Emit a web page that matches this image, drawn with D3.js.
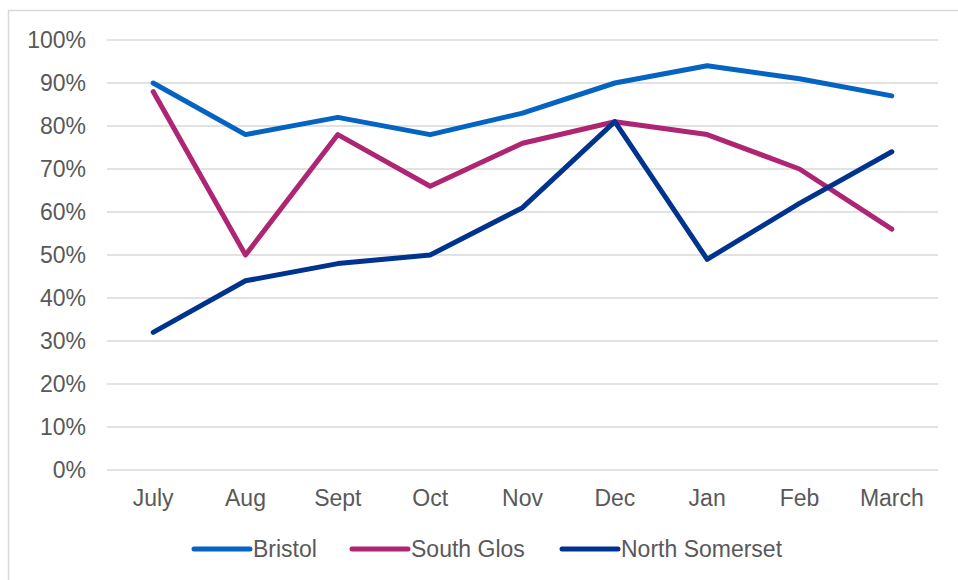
<!DOCTYPE html>
<html>
<head>
<meta charset="utf-8">
<script src="https://cdn.jsdelivr.net/npm/d3@7"></script>
<style>
  body { margin: 0; background: #fff; }
  svg { display: block; }
  text { font-family: "Liberation Sans", Arial, sans-serif; fill: #595959; }
</style>
</head>
<body>
<div id="chart"></div>
<script>
// Months on the x axis
const months = ["July", "Aug", "Sept", "Oct", "Nov", "Dec", "Jan", "Feb", "March"];

// Percentages
const bristol = [90, 78, 82, 78, 83, 90, 94, 91, 87];
const southGlos = [88, 50, 78, 66, 76, 81, 78, 70, 56];
const northSomerset = [32, 44, 48, 50, 61, 81, 49, 62, 74];

const seriesNames = ["Bristol", "South Glos", "North Somerset"];
const yTicks = [0, 10, 20, 30, 40, 50, 60, 70, 80, 90, 100];

const config = {
  width: 958,
  height: 580,
  margin: { top: 40, bottom: 110, right: 20, left: 107 }
};
const colors = ["#0563c1", "#ae2573", "#00338d"];
const fontSize = "23px";

const series = [bristol, southGlos, northSomerset].map((vals, i) => ({
  name: seriesNames[i],
  color: colors[i],
  values: vals.map((v, j) => ({ month: months[j], value: v }))
}));

const svg = d3.select("#chart").append("svg")
  .attr("width", config.width)
  .attr("height", config.height);

// outer chart border
svg.append("rect")
  .attr("x", 8.5).attr("y", 10.5)
  .attr("width", config.width + 10).attr("height", config.height + 10)
  .attr("fill", "none")
  .attr("stroke", "#d9d9d9")
  .attr("stroke-width", 1.5);

const innerW = 938 - config.margin.left;
const innerH = 470 - config.margin.top;

const g = svg.append("g")
  .attr("transform", `translate(${config.margin.left},${config.margin.top})`);

const xScale = d3.scaleBand()
  .domain(months)
  .range([0, innerW]);

const yScale = d3.scaleLinear()
  .domain([0, 100])
  .range([innerH, 0]);

// gridlines
g.selectAll(".grid").data(yTicks).enter()
  .append("line")
  .attr("class", "grid")
  .attr("x1", 0).attr("x2", innerW)
  .attr("y1", d => yScale(d)).attr("y2", d => yScale(d))
  .attr("stroke", "#d9d9d9")
  .attr("stroke-width", 1.5);

// y labels
g.selectAll(".ylab").data(yTicks).enter()
  .append("text")
  .attr("class", "ylab")
  .attr("x", -21)
  .attr("y", d => yScale(d) + 8)
  .attr("text-anchor", "end")
  .style("font-size", fontSize)
  .text(d => d + "%");

// x labels
g.selectAll(".xlab").data(months).enter()
  .append("text")
  .attr("class", "xlab")
  .attr("x", d => xScale(d) + xScale.bandwidth() / 2)
  .attr("y", innerH + 36)
  .attr("text-anchor", "middle")
  .style("font-size", fontSize)
  .text(d => d);

const line = d3.line()
  .x(d => xScale(d.month) + xScale.bandwidth() / 2)
  .y(d => yScale(d.value));

g.selectAll(".series").data(series).enter()
  .append("path")
  .attr("class", "series")
  .attr("d", d => line(d.values))
  .attr("fill", "none")
  .attr("stroke", d => d.color)
  .attr("stroke-width", 5)
  .attr("stroke-linejoin", "round")
  .attr("stroke-linecap", "round");

// legend
const legendY = 549;
const legendX = [194, 352, 562];
const legend = svg.selectAll(".legend").data(series).enter()
  .append("g")
  .attr("class", "legend")
  .attr("transform", (d, i) => `translate(${legendX[i]},${legendY})`);

legend.append("line")
  .attr("x1", 0).attr("x2", 56)
  .attr("y1", 0).attr("y2", 0)
  .attr("stroke", d => d.color)
  .attr("stroke-width", 5)
  .attr("stroke-linecap", "round");

legend.append("text")
  .attr("x", 59)
  .attr("y", 8)
  .style("font-size", fontSize)
  .text(d => d.name);
</script>
</body>
</html>
